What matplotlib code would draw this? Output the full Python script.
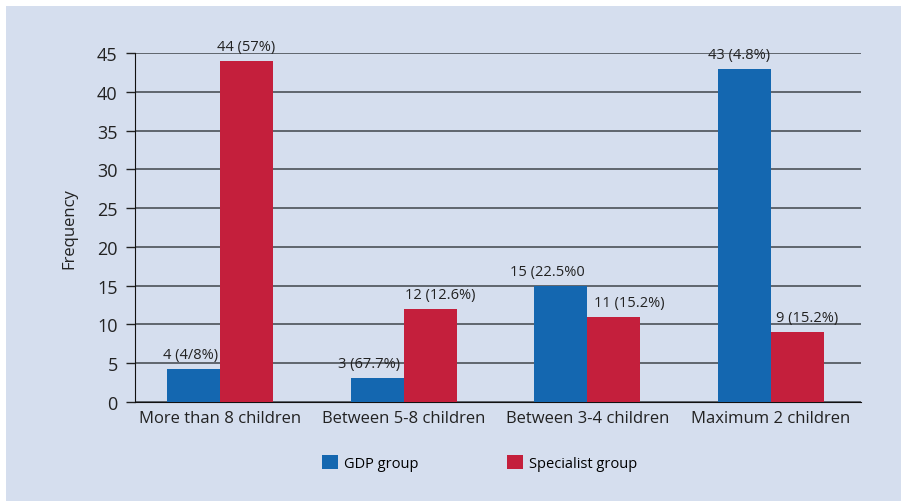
import numpy as np
import matplotlib
matplotlib.use("Agg")
import matplotlib.pyplot as plt
from matplotlib.patches import Rectangle

plt.rcParams['font.family'] = ['Open Sans', 'DejaVu Sans']

categories = ['More than 8 children', 'Between 5-8 children',
              'Between 3-4 children', 'Maximum 2 children']
gdp = [4.2, 3.1, 15, 43]
specialist = [44, 12, 11, 9]
gdp_labels = ['4 (4/8%)', '3 (67.7%)', '15 (22.5%0', '43 (4.8%)']
spec_labels = ['44 (57%)', '12 (12.6%)', '11 (15.2%)', '9 (15.2%)']

# small horizontal nudges of the value labels (points)
gdp_dx = [-2, -6, -10, -4]
spec_dx = [0, 7, 11, 7]

blue = '#1467b0'
red = '#c41f3c'
bg = '#d5deee'

fig = plt.figure(figsize=(9.01, 5.02), dpi=100)
fig.patch.set_facecolor('white')
fig.patches.append(Rectangle((6/901, 0), 1, 495/502, transform=fig.transFigure,
                             facecolor=bg, edgecolor='none', zorder=-5))

ax = fig.add_axes([135/901, 1-403/502, (861-135)/901, (403-54)/502])
ax.set_facecolor('none')

x = np.arange(len(categories))
w = 0.288
b1 = ax.bar(x - w/2, gdp, w, color=blue, label='GDP group', zorder=3)
b2 = ax.bar(x + w/2, specialist, w, color=red, label='Specialist group', zorder=3)

for i in range(len(categories)):
    ax.annotate(gdp_labels[i], (x[i] - w/2, gdp[i]), xytext=(gdp_dx[i], 5),
                textcoords='offset points', ha='center', va='bottom',
                fontsize=10.5, color='#222222', zorder=4)
    ax.annotate(spec_labels[i], (x[i] + w/2, specialist[i]), xytext=(spec_dx[i], 5),
                textcoords='offset points', ha='center', va='bottom',
                fontsize=10.5, color='#222222', zorder=4)

ax.set_xlim(-0.463, 3.49)
ax.set_ylim(0, 45)
ax.set_yticks(np.arange(0, 46, 5))
ax.yaxis.grid(True, color='#4b5157', linewidth=1.2, zorder=1)
ax.set_axisbelow(True)
ax.set_xticks(x)
ax.set_xticklabels(categories, fontsize=12, color='#222222')
ax.tick_params(axis='x', length=0, pad=6)
ax.tick_params(axis='y', length=6.5, width=1, color='#222222', labelsize=13,
               labelcolor='#222222', pad=6)
for s in ['top', 'right']:
    ax.spines[s].set_visible(False)
ax.spines['left'].set_color('#111111')
ax.spines['bottom'].set_color('#111111')
ax.set_ylabel('Frequency', fontsize=12, color='#222222', labelpad=14)

ax.legend(loc='upper center', bbox_to_anchor=(0.4745, -0.115), ncol=2, frameon=False,
          fontsize=10.5, handlelength=1.1, handleheight=1.1, columnspacing=6.1,
          handletextpad=0.4)

plt.savefig('out.png', dpi=100)
